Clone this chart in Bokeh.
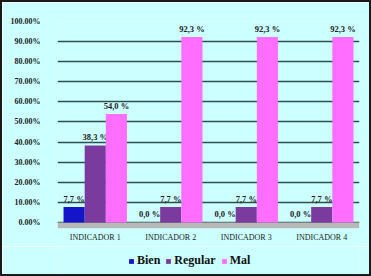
from bokeh.plotting import figure
from bokeh.layouts import column
from bokeh.models import ColumnDataSource, Range1d, FixedTicker, Legend, LegendItem, BoxAnnotation, CustomJSTickFormatter
from bokeh.transform import dodge
from bokeh.core.properties import value
from bokeh.embed import file_html
from bokeh.resources import INLINE

categories = ["INDICADOR 1", "INDICADOR 2", "INDICADOR 3", "INDICADOR 4"]
series_names = ["Bien", "Regular", "Mal"]
bien = [7.7, 0.0, 0.0, 0.0]
regular = [38.3, 7.7, 7.7, 7.7]
mal = [54.0, 92.3, 92.3, 92.3]
y_ticks = [0, 10, 20, 30, 40, 50, 60, 70, 80, 90, 100]

colors = ["#1414c8", "#7a3a9e", "#ff6eff"]
BG = "#ccffff"
FONT = "Liberation Serif"
BORDER = "2px solid #1a1a1a"

def fmt(v):
    return ("%.1f" % v).replace(".", ",") + " %"

src = ColumnDataSource(dict(
    cat=categories,
    Bien=bien, Regular=regular, Mal=mal,
    Bien_l=[fmt(v) for v in bien],
    Regular_l=[fmt(v) for v in regular],
    Mal_l=[fmt(v) for v in mal],
))

p = figure(x_range=categories, y_range=Range1d(-3, 100),
           width=371, height=246, output_backend="svg", toolbar_location=None,
           min_border_left=55, min_border_right=14, min_border_top=19, min_border_bottom=20,
           background_fill_color=BG, border_fill_color=BG, outline_line_color=None)
p.styles = {"border-top": BORDER, "border-left": BORDER, "border-right": BORDER}

p.add_layout(BoxAnnotation(top=0, fill_color="#b8b8b8", fill_alpha=1, line_color=None, level="underlay"))

offsets = [-0.28, 0.0, 0.28]
for name, off, col in zip(series_names, offsets, colors):
    p.vbar(x=dodge("cat", off, range=p.x_range), top=name, bottom=0, width=0.28,
           source=src, fill_color=col, line_color=None)
    p.text(x=dodge("cat", off, range=p.x_range), y=name, text=name + "_l", source=src,
           text_align="center", text_baseline="bottom", y_offset=-3,
           text_font=value(FONT), text_font_size="8.5px", text_font_style="bold",
           text_color="#222222")

p.yaxis.ticker = FixedTicker(ticks=y_ticks)
p.yaxis.formatter = CustomJSTickFormatter(code="return tick.toFixed(2) + '%';")
p.yaxis.axis_line_color = None
p.yaxis.major_tick_line_color = None
p.yaxis.minor_tick_line_color = None
p.yaxis.major_tick_out = 0
p.yaxis.major_label_standoff = 17
p.yaxis.major_label_text_font = FONT
p.yaxis.major_label_text_font_size = "8px"
p.yaxis.major_label_text_font_style = "bold"
p.yaxis.major_label_text_color = "#222222"

p.xaxis.axis_line_color = None
p.xaxis.major_tick_line_color = None
p.xaxis.major_tick_out = 0
p.xaxis.major_label_standoff = 4
p.xaxis.major_label_text_font = FONT
p.xaxis.major_label_text_font_size = "8px"
p.xaxis.major_label_text_color = "#222222"

p.xgrid.grid_line_color = None
p.ygrid.grid_line_color = "#2f4f4f"
p.ygrid.grid_line_width = 1.5

# legend strip below the chart (its bars lie outside its visible range)
lf = figure(width=371, height=30, output_backend="svg", toolbar_location=None,
            x_axis_type=None, y_axis_type=None, min_border=0,
            x_range=categories, y_range=Range1d(1000, 1001),
            background_fill_color=BG, border_fill_color=BG, outline_line_color=None)
lf.styles = {"border-bottom": BORDER, "border-left": BORDER, "border-right": BORDER}
lf.xgrid.grid_line_color = None
lf.ygrid.grid_line_color = None
items = []
for name, col in zip(series_names, colors):
    r = lf.vbar(x="cat", top=name, bottom=0, width=0.28, source=src, fill_color=col, line_color=None)
    items.append(LegendItem(label=name, renderers=[r]))
legend = Legend(items=items, orientation="horizontal", location=(71, 8),
                glyph_width=6, glyph_height=6, spacing=5, label_standoff=3,
                label_text_font=FONT, label_text_font_size="12px", label_text_font_style="bold",
                label_text_color="#111111",
                background_fill_alpha=0, border_line_color=None, padding=0, margin=0)
lf.add_layout(legend, "center")

layout = column(p, lf, spacing=0)
open("out.html", "w").write(file_html(layout, INLINE))
